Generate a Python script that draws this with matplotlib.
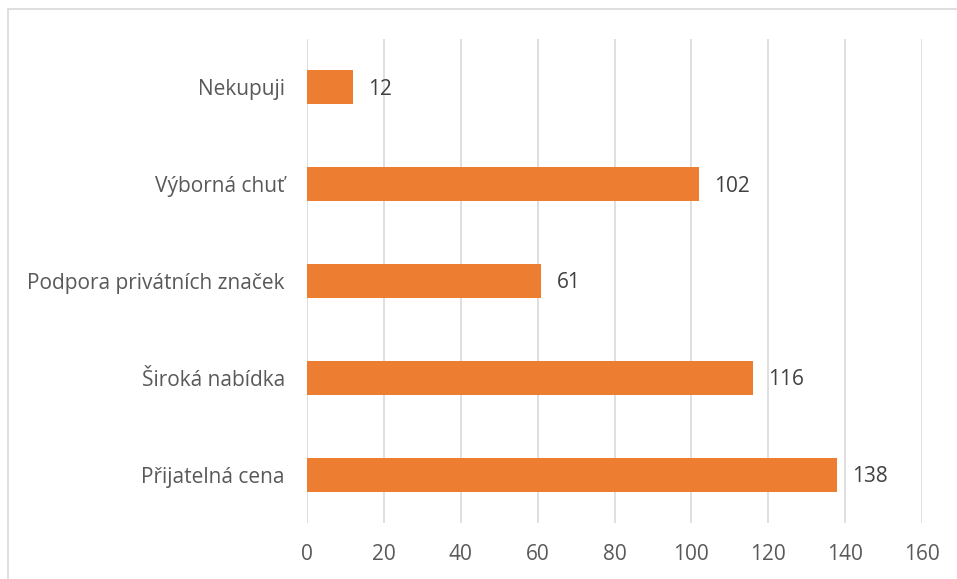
import matplotlib
matplotlib.use("Agg")
import matplotlib.pyplot as plt
from matplotlib.patches import Rectangle

categories = ["Přijatelná cena", "Široká nabídka", "Podpora privátních značek", "Výborná chuť", "Nekupuji"]
values = [138, 116, 61, 102, 12]
xticks = [0, 20, 40, 60, 80, 100, 120, 140, 160]

plt.rcParams['font.family'] = ['Open Sans', 'DejaVu Sans']
txt = '#595959'
fs = 15

fig = plt.figure(figsize=(9.57, 5.79), dpi=100)
fig.patches.append(Rectangle((8/957, -0.1), 1.2, 1 - 9/579 + 0.1, transform=fig.transFigure,
                             fill=False, edgecolor='#d9d9d9', linewidth=1.2))
ax = fig.add_axes([307/957, 1 - 523/579, (922 - 307)/957, (523 - 39)/579])

y = list(range(len(categories)))
ax.barh(y, values, height=0.35, color='#ED7D31', zorder=3)
for yi, v in zip(y, values):
    ax.annotate(str(v), (v, yi), xytext=(15, -2), textcoords='offset pixels',
                va='center', ha='left', fontsize=fs, color='#404040')

ax.set_xlim(0, 160)
ax.set_ylim(-0.5, len(categories) - 0.5)
ax.set_xticks(xticks)
ax.set_xticklabels([str(t) for t in xticks])
ax.set_yticks(y)
ax.set_yticklabels(categories)
ax.tick_params(axis='both', length=0, labelsize=fs, labelcolor=txt)
ax.tick_params(axis='y', pad=16)
ax.tick_params(axis='x', pad=15)
ax.grid(axis='x', color='#d9d9d9', linewidth=1.2, zorder=0)
for s in ax.spines.values():
    s.set_visible(False)

fig.savefig("out.png", dpi=100)
